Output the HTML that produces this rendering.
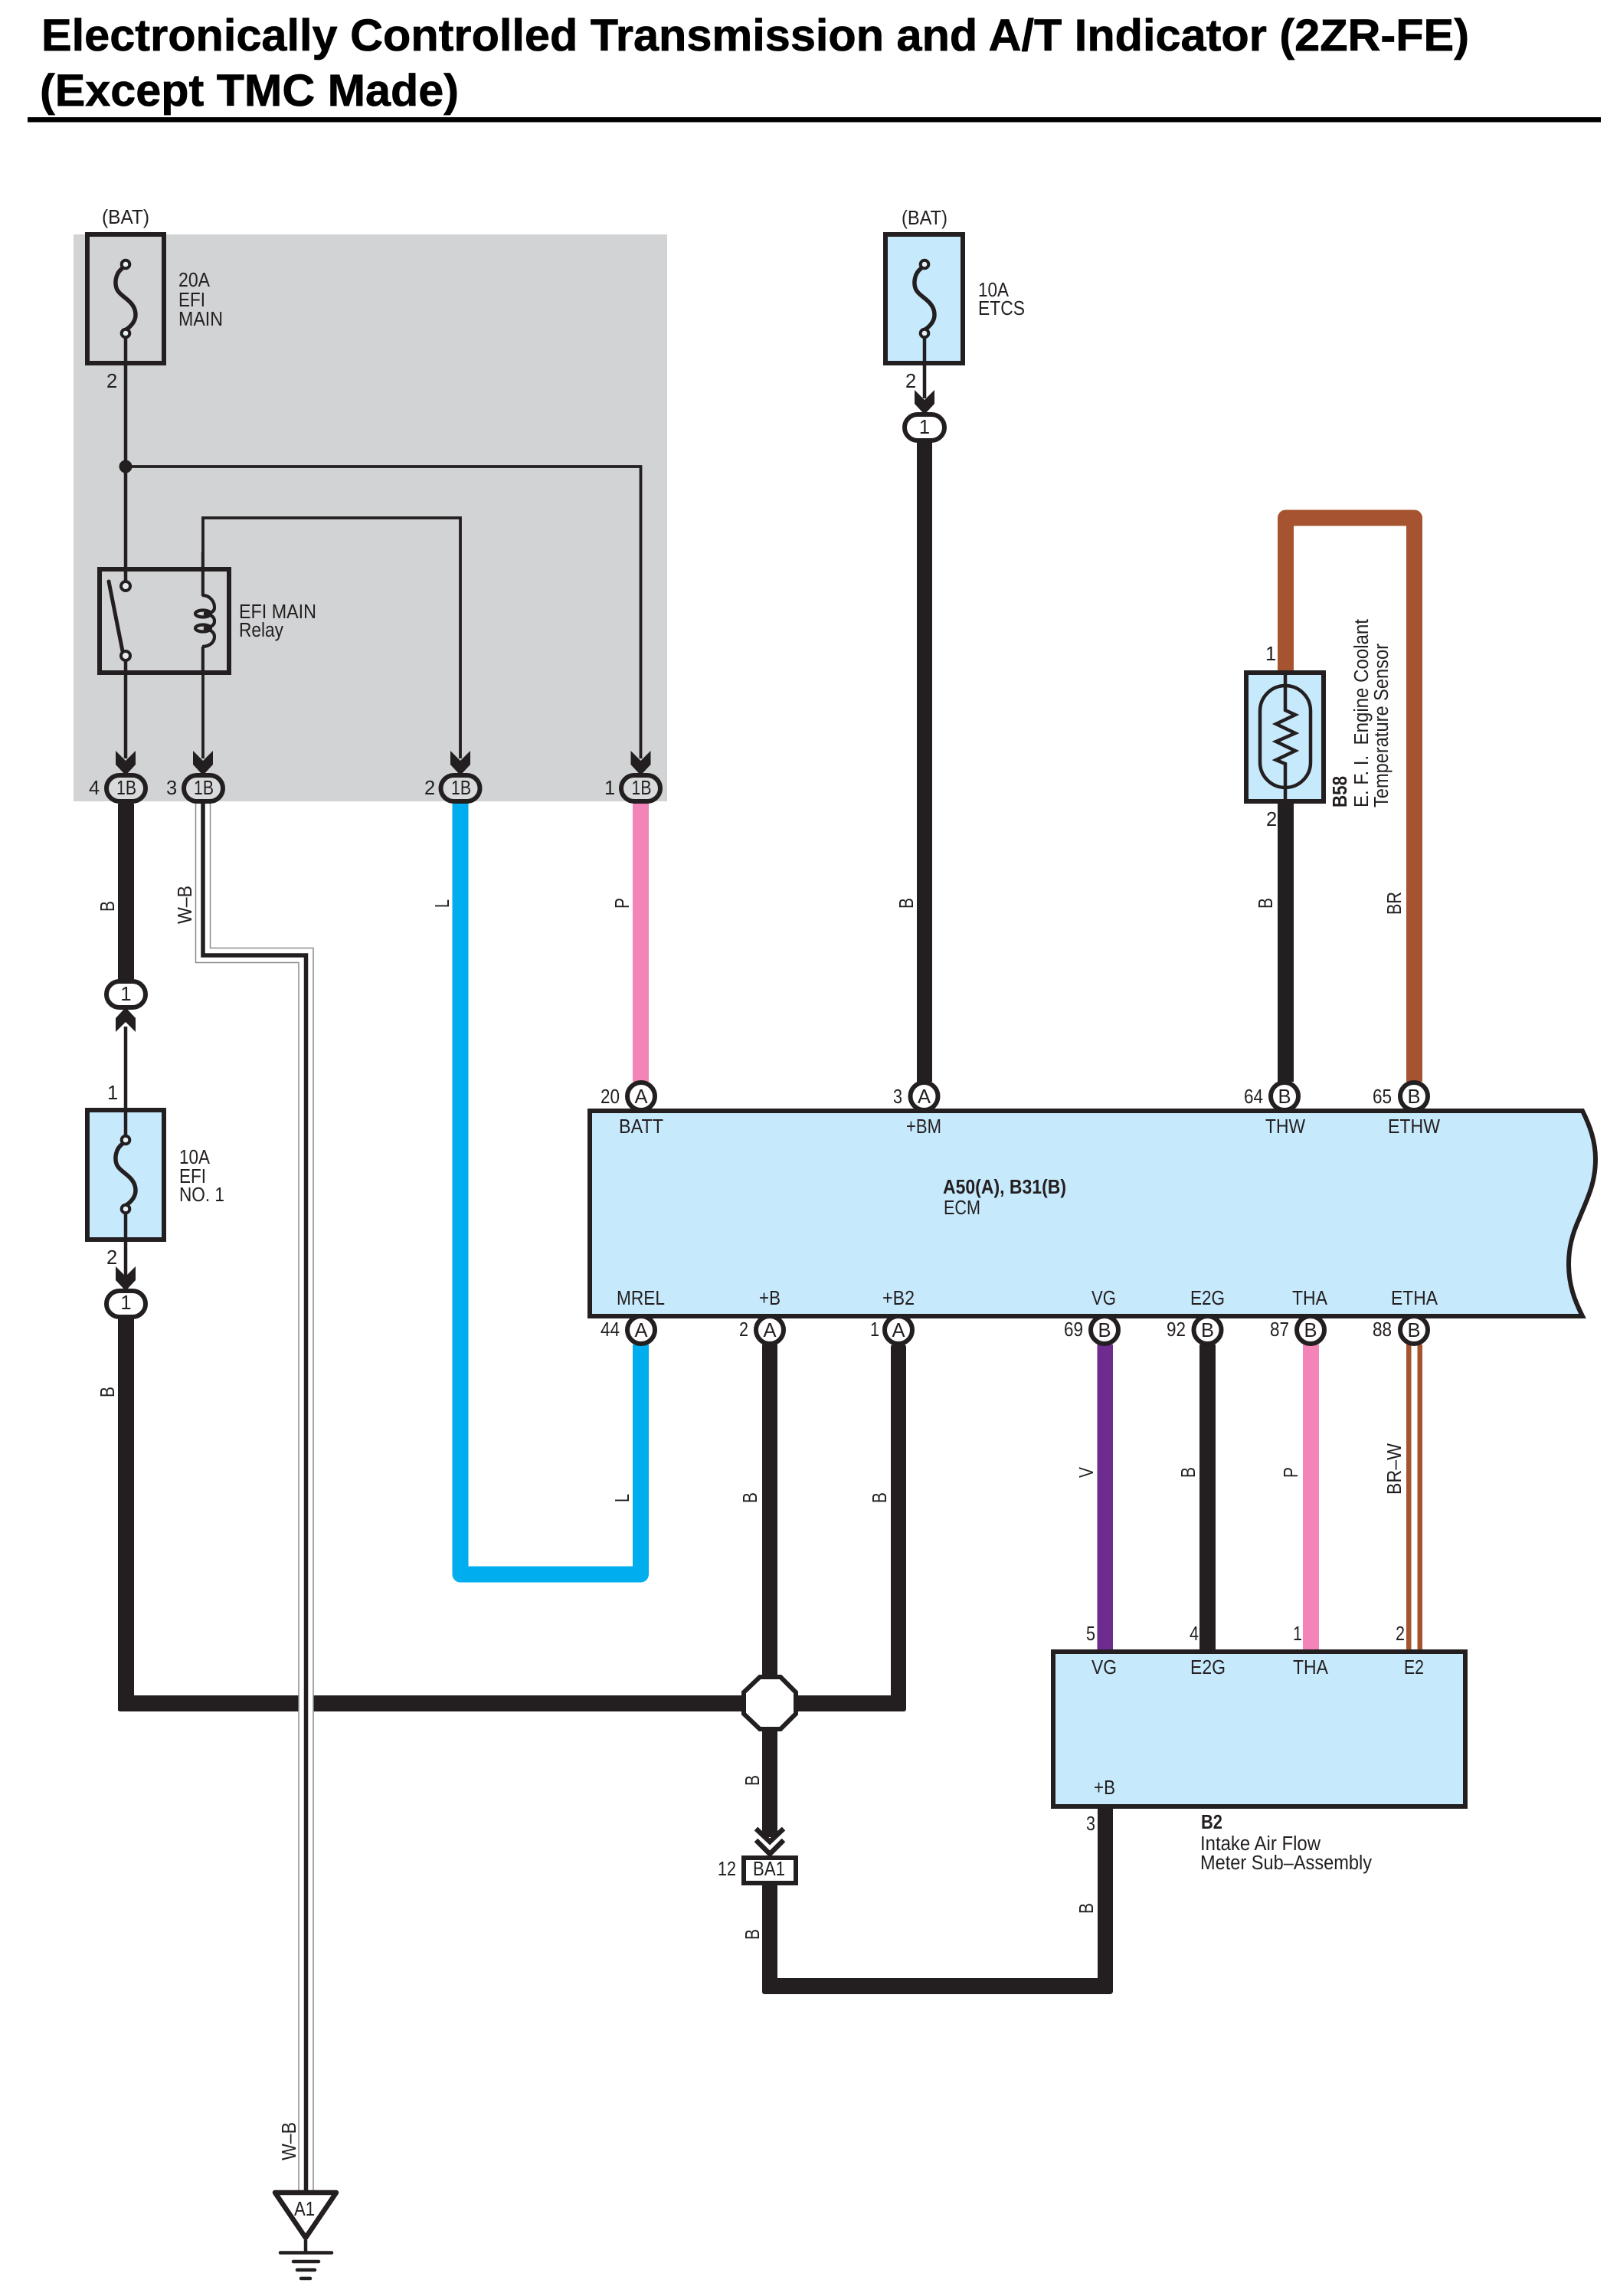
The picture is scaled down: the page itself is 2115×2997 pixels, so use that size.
<!DOCTYPE html>
<html><head><meta charset="utf-8"><title>Electronically Controlled Transmission and A/T Indicator</title>
<style>html,body{margin:0;padding:0;background:#fff}svg{display:block}
text{font-family:"Liberation Sans",sans-serif;font-size:25.5px;fill:#231f20}
.b{font-weight:bold}.m{text-anchor:middle}</style></head><body>
<svg xmlns="http://www.w3.org/2000/svg" width="2115" height="2997" viewBox="0 0 2115 2997">
<defs>
<g id="fuse" fill="none" stroke="#231f20">
<path d="M160 350C150 357 150 370 152 376C156 388 177 392 177 411C177 421 168 429 161 432" stroke-width="5.5"/>
<circle cx="164" cy="345" r="5.3" fill="#e8f2f6" stroke-width="4"/>
<circle cx="164" cy="435" r="5.3" fill="#e8f2f6" stroke-width="4"/>
</g>
<path id="ah" d="M-13 0V18L0 32L13 18V0L0 13Z" fill="#231f20"/>
</defs>
<rect width="2115" height="2997" fill="#fff"/>
<text class="b" x="54" y="66" style="font-size:58px;fill:#000;stroke:#000;stroke-width:.7" textLength="1864" lengthAdjust="spacingAndGlyphs">Electronically Controlled Transmission and A/T Indicator (2ZR-FE)</text>
<text class="b" x="52" y="138" style="font-size:58px;fill:#000;stroke:#000;stroke-width:.7" textLength="547" lengthAdjust="spacingAndGlyphs">(Except TMC Made)</text>
<rect x="36" y="153" width="2054" height="6.5" fill="#000"/>

<rect x="96" y="306" width="775" height="740" fill="#d1d3d4"/>

<!-- thin wires in gray block -->
<g fill="none" stroke="#231f20" stroke-width="4.5">
<path d="M164 441V760M164 862V990"/>
<path d="M164 609H836.5V990" stroke-width="3.8"/>
<path d="M265 990V844M265 777V676H601V990" stroke-width="3.8"/>
</g>
<circle cx="164" cy="609" r="8.5" fill="#231f20"/>

<!-- Fuse 1 -->
<rect x="114" y="306" width="100" height="168" fill="none" stroke="#231f20" stroke-width="6"/>
<use href="#fuse"/>
<text x="133" y="292" textLength="62" lengthAdjust="spacingAndGlyphs">(BAT)</text>
<text x="233" y="374" textLength="41" lengthAdjust="spacingAndGlyphs">20A</text>
<text x="233" y="400" textLength="35" lengthAdjust="spacingAndGlyphs">EFI</text>
<text x="233" y="425" textLength="58" lengthAdjust="spacingAndGlyphs">MAIN</text>
<text x="139" y="506">2</text>

<!-- Relay -->
<rect x="130" y="743" width="169" height="135" fill="none" stroke="#231f20" stroke-width="6"/>
<path d="M142 759L160 850" stroke="#231f20" stroke-width="5" stroke-linecap="round"/>
<circle cx="164" cy="765" r="6" fill="#e8ecee" stroke="#231f20" stroke-width="4"/>
<circle cx="164" cy="856" r="6" fill="#e8ecee" stroke="#231f20" stroke-width="4"/>
<g fill="none" stroke="#231f20" stroke-width="4.2">
<path d="M264 777C274 777 280 785 280 793C280 799 274 801 266 801"/>
<path d="M266 801C278 803 280 806 280 811C280 816 276 819 266 820"/>
<path d="M266 820C276 822 280 826 280 831C280 838 274 844 264 844"/>
<ellipse cx="265" cy="801" rx="10" ry="4.5"/>
<ellipse cx="265" cy="820" rx="10" ry="4.5"/>
<path d="M264.7 720V778M264.7 844V880" stroke-width="3.8"/>
</g>
<text x="312" y="807" textLength="101" lengthAdjust="spacingAndGlyphs">EFI MAIN</text>
<text x="312" y="831" textLength="58" lengthAdjust="spacingAndGlyphs">Relay</text>

<!-- thick wires -->
<g fill="#231f20">
<rect x="154" y="1049" width="21" height="232"/>
<rect x="154" y="1720" width="21" height="513"/>
<rect x="154" y="2213" width="1029" height="21" rx="3"/>
<rect x="1163" y="1755" width="20" height="478" rx="3"/>
<rect x="995" y="1755" width="20" height="433"/>
<rect x="995" y="2258" width="20" height="140"/>
<rect x="995" y="2459" width="20" height="144" rx="3"/>
<rect x="995" y="2582" width="458" height="21" rx="4"/>
<rect x="1433" y="2358" width="20" height="245" rx="4"/>
<rect x="1197" y="576" width="20" height="836"/>
<rect x="1668" y="1047" width="21" height="365"/>
<rect x="1566" y="1755" width="21" height="400"/>
</g>
<!-- colored wires -->
<path d="M1678.5 880V676H1846.5V1412" fill="none" stroke="#a65430" stroke-width="21" stroke-linejoin="round"/>
<rect x="826" y="1044" width="21" height="368" fill="#f384b8"/>
<path d="M601 1044V2055H836.5V1755" fill="none" stroke="#00aeef" stroke-width="21" stroke-linejoin="round"/>
<rect x="1432.5" y="1755" width="20.5" height="400" fill="#6e2c8f"/>
<rect x="1701" y="1755" width="21" height="400" fill="#f384b8"/>
<rect x="1836" y="1755" width="6.5" height="400" fill="#a65430"/>
<rect x="1850.5" y="1755" width="6.5" height="400" fill="#a65430"/>

<!-- W-B wire -->
<g fill="none" stroke-linejoin="miter">
<path d="M265 1046V1247H399.5V2860" stroke="#8a8a8a" stroke-width="20.5"/>
<path d="M265 1046V1247H399.5V2860" stroke="#fff" stroke-width="17.5"/>
<path d="M265 1046V1247H399.5V2860" stroke="#231f20" stroke-width="5.5"/>
</g>

<!-- connectors 1B -->
<g fill="#d8dadb" stroke="#231f20" stroke-width="6">
<rect x="139" y="1012" width="51" height="34" rx="17"/>
<rect x="240" y="1012" width="51" height="34" rx="17"/>
<rect x="575.5" y="1012" width="51" height="34" rx="17"/>
<rect x="811" y="1012" width="51" height="34" rx="17"/>
</g>
<use href="#ah" x="164" y="980"/><use href="#ah" x="265" y="980"/><use href="#ah" x="601" y="980"/><use href="#ah" x="836.5" y="980"/>
<g>
<text class="m" x="165" y="1037" textLength="26" lengthAdjust="spacingAndGlyphs">1B</text>
<text class="m" x="266" y="1037" textLength="26" lengthAdjust="spacingAndGlyphs">1B</text>
<text class="m" x="602" y="1037" textLength="26" lengthAdjust="spacingAndGlyphs">1B</text>
<text class="m" x="837.5" y="1037" textLength="26" lengthAdjust="spacingAndGlyphs">1B</text>
<text x="116" y="1037">4</text><text x="217" y="1037">3</text><text x="554" y="1037">2</text><text x="789" y="1037">1</text>
</g>

<!-- Oval 1 upper and fuse 2 -->
<path d="M164 1340V1482M164 1584V1670" stroke="#231f20" stroke-width="4.5" fill="none"/>
<rect x="139" y="1281" width="51" height="34" rx="17" fill="#fff" stroke="#231f20" stroke-width="6"/>
<text class="m" x="164.5" y="1306">1</text>
<g transform="translate(164 1347) scale(1 -1)"><use href="#ah"/></g>
<rect x="114" y="1449" width="100" height="169" fill="#c7e9fc" stroke="#231f20" stroke-width="6"/>
<path d="M164 1449V1482M164 1584V1618" stroke="#231f20" stroke-width="4.5"/>
<use href="#fuse" y="1143"/>
<text x="140" y="1435">1</text>
<text x="234" y="1519" textLength="40" lengthAdjust="spacingAndGlyphs">10A</text>
<text x="234" y="1544" textLength="35" lengthAdjust="spacingAndGlyphs">EFI</text>
<text x="234" y="1568" textLength="59" lengthAdjust="spacingAndGlyphs">NO. 1</text>
<text x="139" y="1650">2</text>
<use href="#ah" x="164" y="1653"/>
<rect x="139" y="1685" width="51" height="34" rx="17" fill="#fff" stroke="#231f20" stroke-width="6"/>
<text class="m" x="164.5" y="1709">1</text>

<!-- ETCS fuse -->
<rect x="1156" y="306" width="101" height="168" fill="#c7e9fc" stroke="#231f20" stroke-width="6"/>
<path d="M1207 441V520" stroke="#231f20" stroke-width="4.5"/>
<use href="#fuse" x="1043"/>
<text x="1177" y="293" textLength="60" lengthAdjust="spacingAndGlyphs">(BAT)</text>
<text x="1277" y="387" textLength="40" lengthAdjust="spacingAndGlyphs">10A</text>
<text x="1277" y="411" textLength="61" lengthAdjust="spacingAndGlyphs">ETCS</text>
<text x="1182" y="506">2</text>
<use href="#ah" x="1207" y="509"/>
<rect x="1181" y="541" width="52" height="34" rx="17" fill="#fff" stroke="#231f20" stroke-width="6"/>
<text class="m" x="1207" y="566">1</text>

<!-- Sensor -->
<rect x="1627" y="878" width="101" height="168" fill="#c7e9fc" stroke="#231f20" stroke-width="6"/>
<rect x="1645" y="895" width="66" height="133" rx="33" fill="none" stroke="#231f20" stroke-width="4.5"/>
<path d="M1678 878V927L1691 933L1666 945L1691 957L1666 968L1691 980L1666 992L1678 997V1046" fill="none" stroke="#231f20" stroke-width="4.5"/>
<text x="1652" y="862">1</text><text x="1653" y="1078">2</text>
<text class="b" transform="translate(1758 1054) rotate(-90)" textLength="41" lengthAdjust="spacingAndGlyphs">B58</text>
<text transform="translate(1786 1054) rotate(-90)" textLength="246" lengthAdjust="spacingAndGlyphs" xml:space="preserve">E. F. I.  Engine Coolant</text>
<text transform="translate(1812 1054) rotate(-90)" textLength="214" lengthAdjust="spacingAndGlyphs">Temperature Sensor</text>

<!-- ECM -->
<path d="M770 1450H2066C2076 1470 2083 1490 2083 1513C2083 1545 2072 1565 2062 1590C2052 1612 2048 1630 2048 1650C2048 1678 2056 1698 2066 1718H770Z" fill="#c7e9fc" stroke="#231f20" stroke-width="6"/>
<g fill="#fff" stroke="#231f20" stroke-width="6">
<circle cx="837" cy="1431" r="18"/><circle cx="1206.5" cy="1431" r="18"/><circle cx="1677" cy="1431" r="18"/><circle cx="1846" cy="1431" r="18"/>
<circle cx="837" cy="1736" r="18"/><circle cx="1005" cy="1736" r="18"/><circle cx="1173" cy="1736" r="18"/><circle cx="1442" cy="1736" r="18"/><circle cx="1576.5" cy="1736" r="18"/><circle cx="1711" cy="1736" r="18"/><circle cx="1846" cy="1736" r="18"/>
</g>
<g class="m">
<text class="m" x="837" y="1440">A</text><text class="m" x="1206.5" y="1440">A</text><text class="m" x="1677" y="1440">B</text><text class="m" x="1846" y="1440">B</text>
<text class="m" x="837" y="1745">A</text><text class="m" x="1005" y="1745">A</text><text class="m" x="1173" y="1745">A</text><text class="m" x="1442" y="1745">B</text><text class="m" x="1576.5" y="1745">B</text><text class="m" x="1711" y="1745">B</text><text class="m" x="1846" y="1745">B</text>
</g>
<text x="784" y="1440" textLength="25" lengthAdjust="spacingAndGlyphs">20</text>
<text x="1166" y="1440" textLength="12" lengthAdjust="spacingAndGlyphs">3</text>
<text x="1624" y="1440" textLength="25" lengthAdjust="spacingAndGlyphs">64</text>
<text x="1792" y="1440" textLength="25" lengthAdjust="spacingAndGlyphs">65</text>
<text x="784" y="1744" textLength="25" lengthAdjust="spacingAndGlyphs">44</text>
<text x="965" y="1744" textLength="12" lengthAdjust="spacingAndGlyphs">2</text>
<text x="1136" y="1744" textLength="12" lengthAdjust="spacingAndGlyphs">1</text>
<text x="1389" y="1744" textLength="25" lengthAdjust="spacingAndGlyphs">69</text>
<text x="1523" y="1744" textLength="25" lengthAdjust="spacingAndGlyphs">92</text>
<text x="1658" y="1744" textLength="25" lengthAdjust="spacingAndGlyphs">87</text>
<text x="1792" y="1744" textLength="25" lengthAdjust="spacingAndGlyphs">88</text>
<text x="808" y="1479" textLength="58" lengthAdjust="spacingAndGlyphs">BATT</text>
<text x="1183" y="1479" textLength="46" lengthAdjust="spacingAndGlyphs">+BM</text>
<text x="1652" y="1479" textLength="52" lengthAdjust="spacingAndGlyphs">THW</text>
<text x="1812" y="1479" textLength="68" lengthAdjust="spacingAndGlyphs">ETHW</text>
<text x="805" y="1703" textLength="63" lengthAdjust="spacingAndGlyphs">MREL</text>
<text x="991" y="1703" textLength="28" lengthAdjust="spacingAndGlyphs">+B</text>
<text x="1152" y="1703" textLength="42" lengthAdjust="spacingAndGlyphs">+B2</text>
<text x="1425" y="1703" textLength="32" lengthAdjust="spacingAndGlyphs">VG</text>
<text x="1554" y="1703" textLength="45" lengthAdjust="spacingAndGlyphs">E2G</text>
<text x="1687" y="1703" textLength="46" lengthAdjust="spacingAndGlyphs">THA</text>
<text x="1816" y="1703" textLength="61" lengthAdjust="spacingAndGlyphs">ETHA</text>
<text class="b" x="1231" y="1558" textLength="161" lengthAdjust="spacingAndGlyphs">A50(A), B31(B)</text>
<text x="1232" y="1585" textLength="48" lengthAdjust="spacingAndGlyphs">ECM</text>

<!-- Intake air flow box -->
<rect x="1375" y="2156" width="538" height="202" fill="#c7e9fc" stroke="#231f20" stroke-width="6"/>
<text x="1425" y="2185" textLength="33" lengthAdjust="spacingAndGlyphs">VG</text>
<text x="1554" y="2185" textLength="46" lengthAdjust="spacingAndGlyphs">E2G</text>
<text x="1688" y="2185" textLength="46" lengthAdjust="spacingAndGlyphs">THA</text>
<text x="1833" y="2185" textLength="26" lengthAdjust="spacingAndGlyphs">E2</text>
<text x="1428" y="2342" textLength="28" lengthAdjust="spacingAndGlyphs">+B</text>
<text x="1418" y="2141" textLength="12" lengthAdjust="spacingAndGlyphs">5</text>
<text x="1553" y="2141" textLength="12" lengthAdjust="spacingAndGlyphs">4</text>
<text x="1688" y="2141" textLength="12" lengthAdjust="spacingAndGlyphs">1</text>
<text x="1822" y="2141" textLength="12" lengthAdjust="spacingAndGlyphs">2</text>
<text x="1418" y="2389" textLength="12" lengthAdjust="spacingAndGlyphs">3</text>
<text class="b" x="1568" y="2387" textLength="28" lengthAdjust="spacingAndGlyphs">B2</text>
<text x="1567" y="2415" textLength="157" lengthAdjust="spacingAndGlyphs">Intake Air Flow</text>
<text x="1567" y="2440" textLength="224" lengthAdjust="spacingAndGlyphs">Meter Sub–Assembly</text>

<!-- Octagon junction -->
<polygon points="992,2189 1019,2189 1039,2209 1039,2237 1019,2257 992,2257 971,2237 971,2209" fill="#fff" stroke="#231f20" stroke-width="6"/>
<!-- chevrons -->
<g fill="none" stroke="#231f20" stroke-width="6.5">
<path d="M987 2387L1005 2404L1023 2387"/>
<path d="M987 2402L1005 2420L1023 2402"/>
</g>
<rect x="971" y="2425" width="68" height="33" fill="#fff" stroke="#231f20" stroke-width="6"/>
<text x="983" y="2448" textLength="42" lengthAdjust="spacingAndGlyphs">BA1</text>
<text x="937" y="2448" textLength="24" lengthAdjust="spacingAndGlyphs">12</text>

<!-- Ground -->
<path d="M359 2862H439L399 2921Z" fill="#fff" stroke="#231f20" stroke-width="6.5" stroke-linejoin="round"/>
<text x="384" y="2892" textLength="27" lengthAdjust="spacingAndGlyphs">A1</text>
<g stroke="#231f20" stroke-linecap="round" stroke-width="4.5">
<path d="M399 2924V2940" stroke-linecap="butt"/>
<path d="M366 2940.5H433"/><path d="M383 2952H416"/><path d="M388 2963H411"/><path d="M393 2974H405"/>
</g>

<!-- rotated wire labels -->
<text transform="translate(149 1190) rotate(-90)" textLength="14" lengthAdjust="spacingAndGlyphs">B</text>
<text transform="translate(250 1206) rotate(-90)" textLength="50" lengthAdjust="spacingAndGlyphs">W–B</text>
<text transform="translate(586 1185) rotate(-90)" textLength="11" lengthAdjust="spacingAndGlyphs">L</text>
<text transform="translate(821 1186) rotate(-90)" textLength="14" lengthAdjust="spacingAndGlyphs">P</text>
<text transform="translate(1192 1186) rotate(-90)" textLength="14" lengthAdjust="spacingAndGlyphs">B</text>
<text transform="translate(1661 1186) rotate(-90)" textLength="14" lengthAdjust="spacingAndGlyphs">B</text>
<text transform="translate(1829 1194) rotate(-90)" textLength="30" lengthAdjust="spacingAndGlyphs">BR</text>
<text transform="translate(149 1824) rotate(-90)" textLength="14" lengthAdjust="spacingAndGlyphs">B</text>
<text transform="translate(821 1961) rotate(-90)" textLength="11" lengthAdjust="spacingAndGlyphs">L</text>
<text transform="translate(988 1962) rotate(-90)" textLength="14" lengthAdjust="spacingAndGlyphs">B</text>
<text transform="translate(1157 1962) rotate(-90)" textLength="14" lengthAdjust="spacingAndGlyphs">B</text>
<text transform="translate(1427 1929) rotate(-90)" textLength="14" lengthAdjust="spacingAndGlyphs">V</text>
<text transform="translate(1560 1929) rotate(-90)" textLength="14" lengthAdjust="spacingAndGlyphs">B</text>
<text transform="translate(1694 1929) rotate(-90)" textLength="14" lengthAdjust="spacingAndGlyphs">P</text>
<text transform="translate(1829 1951) rotate(-90)" textLength="67" lengthAdjust="spacingAndGlyphs">BR–W</text>
<text transform="translate(386 2820) rotate(-90)" textLength="50" lengthAdjust="spacingAndGlyphs">W–B</text>
<text transform="translate(991 2331) rotate(-90)" textLength="14" lengthAdjust="spacingAndGlyphs">B</text>
<text transform="translate(991 2532) rotate(-90)" textLength="14" lengthAdjust="spacingAndGlyphs">B</text>
<text transform="translate(1427 2498) rotate(-90)" textLength="14" lengthAdjust="spacingAndGlyphs">B</text>
</svg>
</body></html>
